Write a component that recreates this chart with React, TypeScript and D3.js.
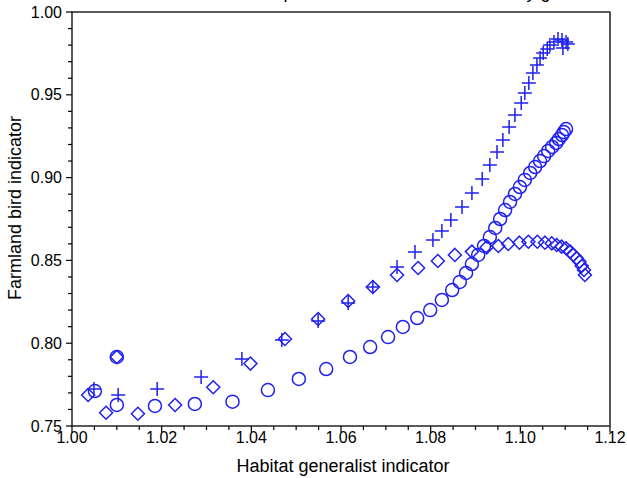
import React, { useEffect } from "react";
import * as d3 from "d3";

// Habitat generalist indicator (x) / Farmland bird indicator (y)
const plusX = [1.0049, 1.0103, 1.0190, 1.0288, 1.0379, 1.0468, 1.0549, 1.0616, 1.0671, 1.0725, 1.0765,
  1.0805, 1.0825, 1.0845, 1.0870, 1.0892, 1.0915, 1.0932, 1.0948, 1.0961, 1.0975, 1.0988, 1.1002, 1.1010,
  1.1019, 1.1028, 1.1037, 1.1044, 1.1051, 1.1060, 1.1066, 1.1075, 1.1084, 1.1093, 1.1102, 1.1106, 1.1095];
const plusY = [0.7723, 0.7687, 0.7723, 0.7796, 0.7905, 0.8019, 0.8134, 0.8243, 0.8339, 0.8460, 0.8551,
  0.8623, 0.8678, 0.8744, 0.8822, 0.8907, 0.8992, 0.9076, 0.9155, 0.9227, 0.9306, 0.9378, 0.9450, 0.9511,
  0.9571, 0.9632, 0.9680, 0.9722, 0.9752, 0.9777, 0.9801, 0.9819, 0.9837, 0.9831, 0.9819, 0.9807, 0.9783];

const circleX = [1.0100, 1.0051, 1.0100, 1.0185, 1.0274, 1.0358, 1.0437, 1.0506, 1.0567, 1.0620, 1.0665,
  1.0705, 1.0738, 1.0770, 1.0799, 1.0825, 1.0848, 1.0865, 1.0879, 1.0892, 1.0906, 1.0919, 1.0932, 1.0944,
  1.0955, 1.0966, 1.0977, 1.0988, 1.0999, 1.1010, 1.1022, 1.1033, 1.1044, 1.1053, 1.1062, 1.1071, 1.1080,
  1.1086, 1.1093, 1.1097, 1.1102];
const circleY = [0.7917, 0.7711, 0.7627, 0.7621, 0.7633, 0.7647, 0.7717, 0.7784, 0.7844, 0.7917, 0.7977,
  0.8037, 0.8098, 0.8152, 0.8200, 0.8261, 0.8321, 0.8370, 0.8424, 0.8478, 0.8533, 0.8587, 0.8641, 0.8696,
  0.8750, 0.8804, 0.8853, 0.8901, 0.8943, 0.8986, 0.9028, 0.9064, 0.9100, 0.9130, 0.9161, 0.9185, 0.9209,
  0.9233, 0.9257, 0.9275, 0.9293];

const diamondX = [1.0100, 1.0036, 1.0076, 1.0147, 1.0230, 1.0315, 1.0398, 1.0475, 1.0549, 1.0616, 1.0671,
  1.0725, 1.0772, 1.0816, 1.0854, 1.0892, 1.0925, 1.0951, 1.0973, 1.0998, 1.1018, 1.1038, 1.1055, 1.1070,
  1.1081, 1.1092, 1.1102, 1.1111, 1.1118, 1.1126, 1.1132, 1.1137, 1.1142, 1.1144];
const diamondY = [0.7917, 0.7687, 0.7580, 0.7574, 0.7627, 0.7734, 0.7877, 0.8025, 0.8146, 0.8255, 0.8339,
  0.8412, 0.8454, 0.8496, 0.8533, 0.8553, 0.8579, 0.8587, 0.8599, 0.8607, 0.8613, 0.8613, 0.8607, 0.8603,
  0.8593, 0.8583, 0.8573, 0.8553, 0.8533, 0.8513, 0.8492, 0.8466, 0.8442, 0.8412];

const xTickLabels = ["1.00", "1.02", "1.04", "1.06", "1.08", "1.10", "1.12"];
const yTickLabels = ["0.75", "0.80", "0.85", "0.90", "0.95", "1.00"];

const W = 627;
const H = 478;
const BLUE = "#2020f0";
const FONT = "'Liberation Sans', Arial, sans-serif";

export default function App() {
  useEffect(() => {
    document.body.style.margin = "0";
  }, []);

  const x = d3.scaleLinear().domain([1.0, 1.12]).range([72, 610]);
  const y = d3.scaleLinear().domain([0.75, 1.0]).range([426, 12]);

  const xMinor = d3.range(0, 25).map((i) => 1.0 + i * 0.005);
  const yMinor = d3.range(0, 26).map((i) => 0.75 + i * 0.01);

  const plusPath = "M-7,0H7M0,-7V7";
  const diamondPath = "M0,-6.5L6.5,0L0,6.5L-6.5,0Z";

  return (
    <svg width={W} height={H} style={{ position: "absolute", left: 0, top: 0, background: "#fff" }}>
      <text x={400} y={-2} fontFamily={FONT} fontSize={18} textAnchor="middle" fill="#000">
        Relationship between the two indicators by gradient
      </text>

      {/* frame */}
      <rect x={x(1.0)} y={y(1.0)} width={x(1.12) - x(1.0)} height={y(0.75) - y(1.0)}
        fill="none" stroke="#000" strokeWidth={1.3} />
      <line x1={x(1.12)} x2={x(1.12)} y1={y(1.0)} y2={y(0.75)} stroke="#555" strokeWidth={2} />

      {/* x ticks */}
      {xMinor.map((v, i) => (
        <line key={"xm" + i} x1={x(v)} x2={x(v)} y1={y(0.75)} y2={y(0.75) + (i % 4 === 0 ? 6 : 4)}
          stroke="#000" strokeWidth={1.2} />
      ))}
      {xTickLabels.map((t) => (
        <text key={"xl" + t} x={x(+t)} y={443} fontFamily={FONT} fontSize={16} textAnchor="middle" fill="#000">
          {t}
        </text>
      ))}

      {/* y ticks */}
      {yMinor.map((v, i) => (
        <line key={"ym" + i} x1={x(1.0) - (i % 5 === 0 ? 6 : 4)} x2={x(1.0)} y1={y(v)} y2={y(v)}
          stroke="#000" strokeWidth={1.2} />
      ))}
      {yTickLabels.map((t) => (
        <text key={"yl" + t} x={62} y={y(+t) + 5.5} fontFamily={FONT} fontSize={16} textAnchor="end" fill="#000">
          {t}
        </text>
      ))}

      <text x={343} y={472} fontFamily={FONT} fontSize={18} textAnchor="middle" fill="#000">
        Habitat generalist indicator
      </text>
      <text transform={`translate(21,${208}) rotate(-90)`} fontFamily={FONT} fontSize={18}
        textAnchor="middle" fill="#000">
        Farmland bird indicator
      </text>

      {/* series */}
      <g fill="none" stroke={BLUE} strokeWidth={1.5}>
        {plusX.map((v, i) => (
          <path key={"p" + i} d={plusPath} transform={`translate(${x(v)},${y(plusY[i])})`} />
        ))}
        {circleX.map((v, i) => (
          <circle key={"c" + i} cx={x(v)} cy={y(circleY[i])} r={6.5} />
        ))}
        {diamondX.map((v, i) => (
          <path key={"d" + i} d={diamondPath} transform={`translate(${x(v)},${y(diamondY[i])})`} />
        ))}
      </g>
    </svg>
  );
}
